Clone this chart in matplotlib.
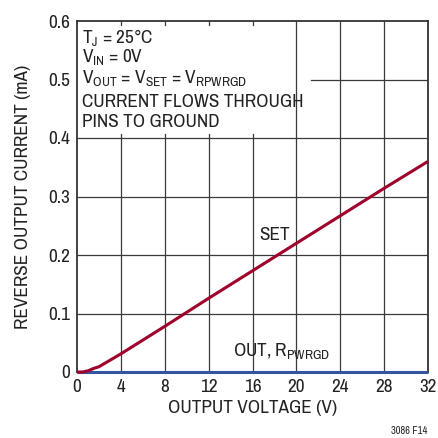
import matplotlib
matplotlib.use("Agg")
import matplotlib.pyplot as plt

plt.rcParams['font.family'] = ['Archivo Narrow', 'DejaVu Sans']
plt.rcParams['mathtext.fontset'] = 'custom'
plt.rcParams['mathtext.rm'] = 'Archivo Narrow'

# reverse current into SET pin vs output voltage (mA)
set_v = [0, 0.5, 1.0, 1.5, 2.0, 4, 8, 12, 16, 20, 24, 28, 32]
set_i = [0, 0, 0.002, 0.006, 0.009, 0.031, 0.078, 0.126, 0.173, 0.220, 0.267, 0.314, 0.36]

# OUT and RPWRGD pins draw essentially nothing
out_v = [0, 32]
out_i = [0, 0]

x_ticks = [0, 4, 8, 12, 16, 20, 24, 28, 32]
y_ticks = [0, 0.1, 0.2, 0.3, 0.4, 0.5, 0.6]
y_labels = ['0', '0.1', '0.2', '0.3', '0.4', '0.5', '0.6']

conditions = [
    r'T$_\mathregular{J}$ = 25°C',
    r'V$_\mathregular{IN}$ = 0V',
    r'V$_\mathregular{OUT}$ = V$_\mathregular{SET}$ = V$_\mathregular{RPWRGD}$',
    'CURRENT FLOWS THROUGH',
    'PINS TO GROUND',
]

FS = 13.8
TXT = '#222222'

fig = plt.figure(figsize=(4.38, 4.38), dpi=100)
ax = fig.add_axes([77 / 438, 66 / 438, 351 / 438, 351 / 438])
ax.set_xlim(0, 32)
ax.set_ylim(0, 0.6)

grid_kw = dict(color='#3a3a3a', lw=0.9, zorder=1)
# grid, leaving the corner under the condition text clear
for x in x_ticks[1:-1]:
    top = 0.4 if x <= 16 else 0.6
    ax.plot([x, x], [0, top], **grid_kw)
for y in y_ticks[1:-1]:
    left = 21.3 if y == 0.5 else 0
    ax.plot([left, 32], [y, y], **grid_kw)
# short stubs along the top edge above the text
for x in x_ticks[1:5]:
    ax.plot([x, x], [0.6, 0.593], **grid_kw)
    ax.plot([x, x], [0.4, 0.407], **grid_kw)

ax.plot(out_v, out_i, color='#3355a0', lw=2.2, zorder=3,
        solid_capstyle='butt', clip_on=False)
ax.plot(set_v, set_i, color='#a0002c', lw=2.2, zorder=4,
        solid_capstyle='butt', clip_on=False)

ax.set_xticks(x_ticks)
ax.set_yticks(y_ticks)
ax.set_yticklabels(y_labels)
ax.tick_params(axis='both', length=0, labelsize=FS, pad=5, colors=TXT)

for s in ax.spines.values():
    s.set_color('#333333')
    s.set_linewidth(1.3)
    s.set_zorder(2)

ax.set_xlabel('OUTPUT VOLTAGE (V)', fontsize=FS, color=TXT, labelpad=4)
ax.set_ylabel('REVERSE OUTPUT CURRENT (mA)', fontsize=FS, color=TXT,
              labelpad=12)

baselines = [0.562, 0.528, 0.492, 0.453, 0.419]
for txt, yb in zip(conditions, baselines):
    ax.text(0.45, yb, txt, fontsize=FS, va='baseline', ha='left',
            color=TXT, zorder=5)

ax.text(18.0, 0.226, 'SET', fontsize=FS, va='baseline', ha='center',
        color=TXT)
ax.text(14.2, 0.026, r'OUT, R$_\mathregular{PWRGD}$', fontsize=FS,
        va='baseline', ha='left', color=TXT)

fig.text(427 / 438, 4 / 438, '3086 F14', fontsize=7.5, ha='right',
         va='baseline', color=TXT)

fig.savefig('out.png', dpi=100)
